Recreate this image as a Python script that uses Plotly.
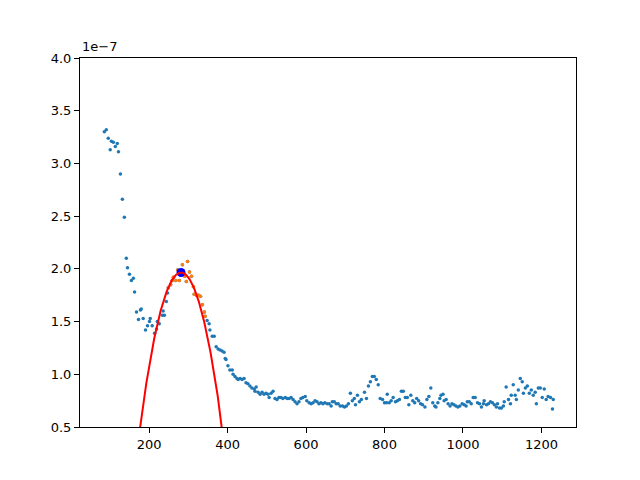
import numpy as np
import plotly.graph_objects as go

# measured spectrum (y in units of 1e-7)
x_data = [
    86, 91, 96, 101, 104, 109, 114, 119, 122, 127, 132, 137,
    142, 145, 150, 155, 160, 163, 168, 173, 178, 180, 185, 191, 196, 201,
    203, 208, 214, 219, 221, 226, 234, 236, 239, 244, 247,
    249, 255, 259, 262, 268, 273, 277, 285, 291, 295, 298, 303, 308, 313,
    315, 321, 326, 331, 336, 341, 343,
    348, 353, 355, 361, 366, 371, 376, 381, 386, 391, 394, 396, 401, 406,
    412, 414, 419, 424, 427, 432, 437, 442, 447, 452, 457, 462, 468, 470,
    473, 478, 483, 488, 493, 498, 503, 506, 511, 516, 521, 526, 531, 536,
    541, 547, 552, 557, 562, 567, 572, 577, 582,
    587, 592, 598, 602, 608, 613, 618, 623, 628, 633, 638, 643, 648, 654,
    659, 664, 667, 672, 677, 682, 687, 693, 698, 703, 708, 713, 718, 723,
    726, 731, 736, 741, 749, 754, 759, 764, 769, 774, 779, 784, 789, 795,
    800, 805, 807, 812, 817, 822, 828, 833, 838, 843, 848, 853, 858, 862,
    867, 872, 877, 882, 887, 892, 897, 903, 908, 913, 918, 923, 928,
    931, 936, 941, 944, 949, 952, 957, 962, 967, 972, 977, 982, 987, 992,
    998, 1003, 1008, 1011, 1016, 1021, 1026, 1031, 1037, 1042, 1047, 1052,
    1054, 1060, 1065, 1070, 1075, 1080, 1085, 1088, 1093, 1098, 1103, 1105,
    1110, 1116, 1121, 1123, 1128, 1133, 1136, 1141, 1146, 1151, 1154, 1159,
    1164, 1169, 1174, 1179, 1184, 1187, 1192, 1197, 1202, 1207, 1212, 1217,
    1223, 1228, 1230,
]
y_data = [
    3.30, 3.32, 3.24, 3.13, 3.21, 3.20, 3.16, 3.19, 3.11, 2.90, 2.66, 2.49,
    2.10, 2.01, 1.95, 1.89, 1.91, 1.78, 1.59, 1.52, 1.61, 1.62, 1.53, 1.42, 1.46, 1.50,
    1.53, 1.46, 1.39, 1.43, 1.50, 1.48, 1.56, 1.60, 1.56, 1.69, 1.77,
    1.82, 1.85, 1.89, 1.92, 1.89, 1.99, 1.89, 2.04, 1.93, 1.88, 2.07, 1.97, 1.93, 1.83,
    1.76, 1.75, 1.75, 1.74, 1.66, 1.59, 1.55,
    1.51, 1.48, 1.42, 1.36, 1.36, 1.26, 1.24, 1.23, 1.22, 1.21, 1.15, 1.14, 1.08, 1.04,
    1.04, 1.00, 0.98, 0.96, 0.95, 0.96, 0.95, 0.96, 0.92, 0.91, 0.89, 0.87, 0.86, 0.84,
    0.88, 0.83, 0.81, 0.83, 0.81, 0.82, 0.81, 0.78, 0.82, 0.84, 0.77, 0.76, 0.78, 0.78,
    0.77, 0.78, 0.77, 0.77, 0.78, 0.76, 0.74, 0.72, 0.74,
    0.77, 0.78, 0.79, 0.75, 0.73, 0.72, 0.73, 0.75, 0.74, 0.72, 0.73, 0.72, 0.73, 0.72,
    0.72, 0.70, 0.74, 0.74, 0.72, 0.72, 0.70, 0.70, 0.69, 0.70, 0.72, 0.82, 0.75, 0.77,
    0.71, 0.80, 0.74, 0.76, 0.83, 0.77, 0.89, 0.93, 0.98, 0.98, 0.95, 0.90, 0.77, 0.76,
    0.73, 0.73, 0.81, 0.73, 0.75, 0.78, 0.74, 0.75, 0.76, 0.84, 0.84, 0.78, 0.78, 0.71,
    0.80, 0.75, 0.73, 0.77, 0.75, 0.72, 0.71, 0.69, 0.76, 0.79, 0.87, 0.73, 0.70,
    0.69, 0.73, 0.77, 0.80, 0.81, 0.75, 0.76, 0.72, 0.70, 0.72, 0.71, 0.70, 0.69, 0.70,
    0.72, 0.71, 0.70, 0.74, 0.74, 0.72, 0.78, 0.78, 0.73, 0.72, 0.69, 0.72,
    0.75, 0.71, 0.72, 0.74, 0.73, 0.71, 0.69, 0.72, 0.68, 0.68, 0.70, 0.74,
    0.88, 0.76, 0.72, 0.80, 0.90, 0.80, 0.76, 0.85, 0.96, 0.93, 0.82, 0.87,
    0.89, 0.82, 0.85, 0.80, 0.83, 0.72, 0.87, 0.87, 0.78, 0.86, 0.76, 0.79,
    0.78, 0.67, 0.76,
]

# fit window (orange) and fitted parabola  y = peak_y - curv*(x-peak_x)^2
fit_lo, fit_hi = 249, 343
peak_x, peak_y = 281.5, 1.965
curv = 1.3415e-4

x_data = np.array(x_data)
y_data = np.array(y_data)
win = (x_data >= fit_lo) & (x_data <= fit_hi)

x_fit = np.linspace(x_data.min(), x_data.max(), 1500)
y_fit = peak_y - curv*(x_fit - peak_x)**2

fig = go.Figure()

fig.add_trace(go.Scatter(
    x=x_data, y=y_data, mode='markers',
    marker=dict(size=3.5, color='#1f77b4'),
    hoverinfo='none'
))
fig.add_trace(go.Scatter(
    x=x_data[win], y=y_data[win], mode='markers',
    marker=dict(size=3.5, color='#ff7f0e'),
    hoverinfo='none'
))
fig.add_trace(go.Scatter(
    x=[peak_x], y=[peak_y], mode='markers',
    marker=dict(size=9, color='#0000ff'),
    hoverinfo='none'
))
fig.add_trace(go.Scatter(
    x=x_fit, y=y_fit, mode='lines',
    line=dict(color='#ff0000', width=2),
    hoverinfo='none'
))

axis_style = dict(
    showline=True, linecolor='black', linewidth=1, mirror=True,
    ticks='outside', ticklen=5, tickcolor='black', tickwidth=1,
    showgrid=False, zeroline=False,
    tickfont=dict(family='DejaVu Sans', size=13, color='black'),
)

# the page puts the figure 8px in from the corner, so margins are shifted
fig.update_layout(
    width=640, height=480,
    margin=dict(l=72, r=72, t=50, b=61),
    paper_bgcolor='white', plot_bgcolor='white',
    showlegend=False,
    xaxis=dict(range=[24, 1288], tickvals=[200, 400, 600, 800, 1000, 1200], **axis_style),
    yaxis=dict(range=[0.5, 4.0], dtick=0.5, tick0=0.5, tickformat='.1f', **axis_style),
    annotations=[dict(
        text='1e\u22127', xref='paper', yref='paper', x=0, y=1,
        xanchor='left', yanchor='bottom', showarrow=False, yshift=2,
        font=dict(family='DejaVu Sans', size=13, color='black')
    )],
)

fig.write_html("out.html")
